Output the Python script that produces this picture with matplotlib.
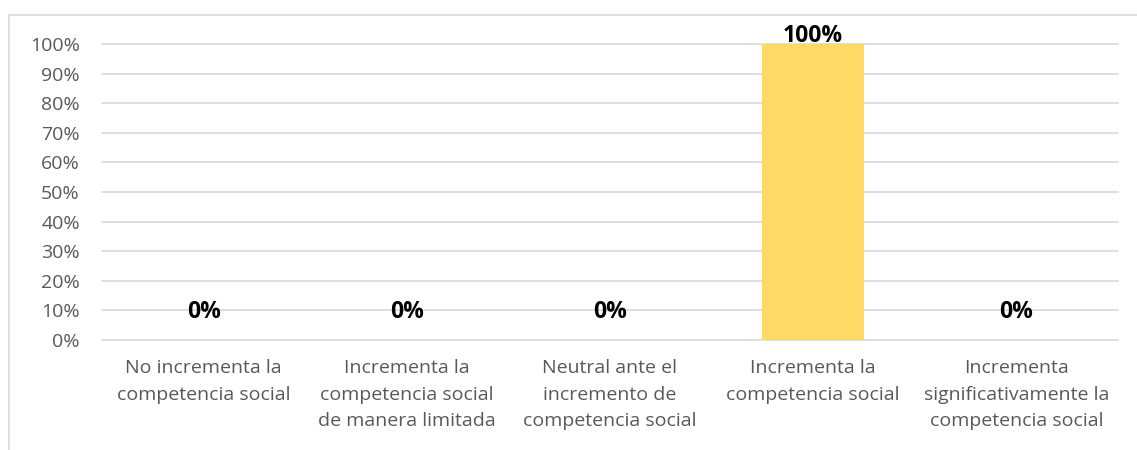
import matplotlib.pyplot as plt
import matplotlib.patches as patches
from matplotlib.ticker import PercentFormatter

# Datos
categorias = [
    "No incrementa la\ncompetencia social",
    "Incrementa la\ncompetencia social\nde manera limitada",
    "Neutral ante el\nincremento de\ncompetencia social",
    "Incrementa la\ncompetencia social",
    "Incrementa\nsignificativamente la\ncompetencia social",
]
porcentajes = [0, 0, 0, 100, 0]

plt.rcParams["font.family"] = ["Open Sans", "DejaVu Sans"]

fig = plt.figure(figsize=(11.37, 4.5), dpi=100)
ax = fig.add_axes([102 / 1137, 1 - 340 / 450, (1118 - 102) / 1137, (340 - 44) / 450])

# Marco del gráfico
marco = patches.Rectangle((9 / 1137, -0.2), 1.2, 1.2 - 15 / 450,
                          transform=fig.transFigure, fill=False,
                          edgecolor="#D9D9D9", linewidth=1.2)
fig.add_artist(marco)

x = range(len(categorias))
ax.bar(x, porcentajes, width=0.5, color="#FFD966", zorder=3)

for i, v in enumerate(porcentajes):
    desplazamiento = 20 if v == 0 else 6
    ax.annotate(f"{v}%", (i, v), xytext=(0, desplazamiento), textcoords="offset points",
                ha="center", va="center", fontsize=16.5, fontweight="bold", color="black",
                zorder=4)

ax.set_xlim(-0.5, len(categorias) - 0.5)
ax.set_ylim(0, 100)
ax.set_yticks(range(0, 101, 10))
ax.yaxis.set_major_formatter(PercentFormatter(decimals=0))
ax.set_xticks(list(x))
ax.set_xticklabels(categorias, fontsize=14, color="#595959", linespacing=1.58)
ax.tick_params(axis="y", labelsize=14, labelcolor="#595959", length=0, pad=16)
ax.tick_params(axis="x", length=0, pad=14)
ax.grid(axis="y", color="#D9D9D9", linewidth=1.2, zorder=0)
for linea in ax.yaxis.get_gridlines():
    linea.set_clip_on(False)
for lado in ax.spines.values():
    lado.set_visible(False)

fig.savefig("out.png", dpi=100)
